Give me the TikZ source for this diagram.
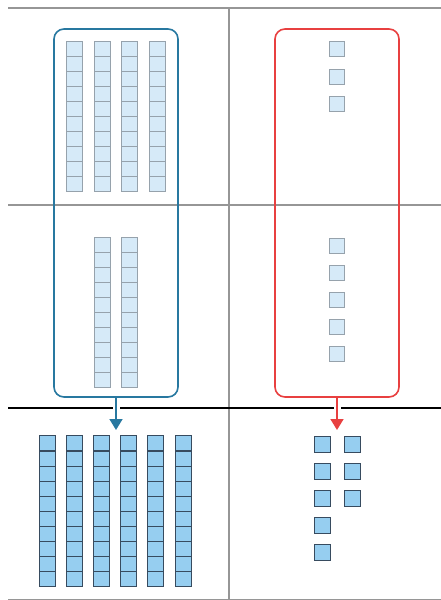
\documentclass[tikz,border=0pt]{standalone}
\usepackage{tikz}
\usetikzlibrary{arrows.meta}
\definecolor{boxblue}{RGB}{40,120,160}
\definecolor{boxred}{RGB}{232,64,64}
\definecolor{palecell}{RGB}{214,234,248}
\definecolor{palerim}{RGB}{150,162,172}
\definecolor{deepcell}{RGB}{150,206,240}
\definecolor{deeprim}{RGB}{55,75,95}
\definecolor{gridgray}{RGB}{150,150,150}

\begin{document}
\begin{tikzpicture}[x=1pt, y=-1pt,
  pale/.style={draw=palerim, fill=palecell, line width=0.8pt, inner sep=0pt,
    minimum width=16pt, minimum height=15pt},
  deep/.style={draw=deeprim, fill=deepcell, line width=0.8pt, inner sep=0pt,
    minimum width=16pt, minimum height=15pt},
  group/.style={draw, rounded corners=10pt, line width=1.6pt, inner sep=0pt,
    minimum width=124pt, minimum height=368pt},
  move/.style={line width=1.6pt, -{Triangle[width=13pt,length=11pt]},
    preaction={draw=white, line width=7pt, -, shorten <=6pt, shorten >=12pt}}]
  \useasboundingbox (0,0) rectangle (441,600);
  \draw[gridgray, line width=1.2pt] (8,8) -- (441,8);
  \draw[gridgray, line width=1.2pt] (8,205) -- (441,205);
  \draw[gridgray, line width=1.2pt] (8,599.4) -- (441,599.4);
  \draw[gridgray, line width=1.2pt] (229,8) -- (229,600);
  \draw[line width=2.8pt] (8,408) -- (441,408);
  \foreach \i in {0,...,3}
    \foreach \j in {0,...,9}
      \node[pale] (ta\i\j) at ({74.75+27.5*\i},{49.2+15*\j}) {};
  \foreach \i in {0,1}
    \foreach \j in {0,...,9}
      \node[pale] (ma\i\j) at ({102.25+27.5*\i},{245.2+15*\j}) {};
  \foreach \k in {0,1,2}
    \node[pale, minimum width=15pt] (tb\k) at (337,{49.2+27.2*\k}) {};
  \foreach \k in {0,...,4}
    \node[pale, minimum width=15pt] (mb\k) at (337,{245.5+27.1*\k}) {};
  \node[group, boxblue] (leftgroup) at (116,213) {};
  \node[group, boxred] (rightgroup) at (337,213) {};
  \coordinate (bluetip) at (116,430);
  \coordinate (redtip) at (337,430);
  \draw[move, boxblue] (leftgroup.south) -- (bluetip);
  \draw[move, boxred] (rightgroup.south) -- (redtip);
  \foreach \i in {0,...,5}
    \foreach \j in {0,...,9}
      \node[deep] (ba\i\j) at ({47+27.2*\i},{443.3+15.1*\j}) {};
  \foreach \k in {0,...,4}
    \node[deep, minimum width=16.5pt, minimum height=16pt] (bb\k) at (322.3,{444+27*\k}) {};
  \foreach \k in {0,1,2}
    \node[deep, minimum width=16.5pt, minimum height=16pt] (bc\k) at (352.3,{444+27*\k}) {};
\end{tikzpicture}
\end{document}
